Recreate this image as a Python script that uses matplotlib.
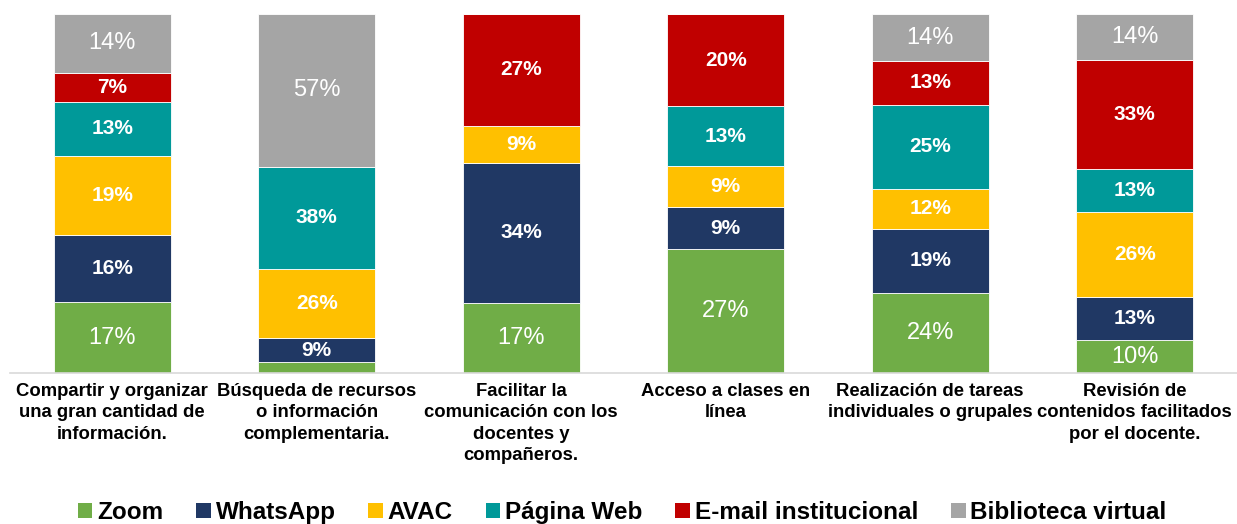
import numpy as np
import matplotlib
matplotlib.use("Agg")
import matplotlib.pyplot as plt
from matplotlib.patches import Patch

plt.rcParams['font.family'] = ['Liberation Sans', 'DejaVu Sans']

# categories (x axis)
categories = [
    "Compartir y organizar\nuna gran cantidad de\ninformación.",
    "Búsqueda de recursos\no información\ncomplementaria.",
    "Facilitar la\ncomunicación con los\ndocentes y\ncompañeros.",
    "Acceso a clases en\nlínea",
    "Realización de tareas\nindividuales o grupales",
    "Revisión de\ncontenidos facilitados\npor el docente.",
]

# series values (percent shown on the bars)
zoom = [17, 4, 17, 27, 24, 10]
whatsapp = [16, 9, 34, 9, 19, 13]
avac = [19, 26, 9, 9, 12, 26]
pagina_web = [13, 38, 0, 13, 25, 13]
email = [7, 0, 27, 20, 13, 33]
biblioteca = [14, 57, 0, 0, 14, 14]

series_names = ["Zoom", "WhatsApp", "AVAC", "Página Web",
                "E-mail institucional", "Biblioteca virtual"]
series = [zoom, whatsapp, avac, pagina_web, email, biblioteca]
colors = ["#70AD47", "#203864", "#FFC000", "#009999", "#C00000", "#A5A5A5"]
bold_labels = [False, True, True, True, True, False]

data = np.array(series, dtype=float)
totals = data.sum(axis=0)
frac = data / totals  # 100% stacked

fig = plt.figure(figsize=(12.37, 5.24), dpi=100)
ax = fig.add_axes([0.008, 0.288, 0.992, 0.685])

x = np.arange(len(categories))
bottom = np.zeros(len(categories))
for vals, fr, col, bold in zip(series, frac, colors, bold_labels):
    ax.bar(x, fr, 0.572, bottom=bottom, color=col, edgecolor="white", linewidth=0.6)
    for i, v in enumerate(vals):
        # skip empty segments and the tiny Zoom slice of bar 2
        if v > 0 and fr[i] > 0.04:
            ax.text(x[i], bottom[i] + fr[i] / 2, f"{v}%", ha="center", va="center",
                    color="white", fontsize=15 if bold else 17,
                    fontweight="bold" if bold else "normal")
    bottom += fr

ax.set_xlim(-0.5, 5.5)
ax.set_ylim(0, 1)
ax.set_yticks([])
for s in ["top", "right", "left"]:
    ax.spines[s].set_visible(False)
ax.spines["bottom"].set_color("#D9D9D9")
ax.spines["bottom"].set_linewidth(1.2)
ax.set_xticks(x)
ax.set_xticklabels(categories, fontsize=13.3, fontweight="bold", linespacing=1.35)
ax.tick_params(axis="x", length=0, pad=7)

handles = [Patch(facecolor=c, label=n) for c, n in zip(colors, series_names)]
fig.legend(handles=handles, loc="center", bbox_to_anchor=(0.503, 0.022), ncol=6,
           frameon=False, prop={"weight": "bold", "size": 17.5},
           handlelength=0.6, handleheight=0.6, handletextpad=0.2, columnspacing=1.35)

fig.savefig("out.png", dpi=100)
